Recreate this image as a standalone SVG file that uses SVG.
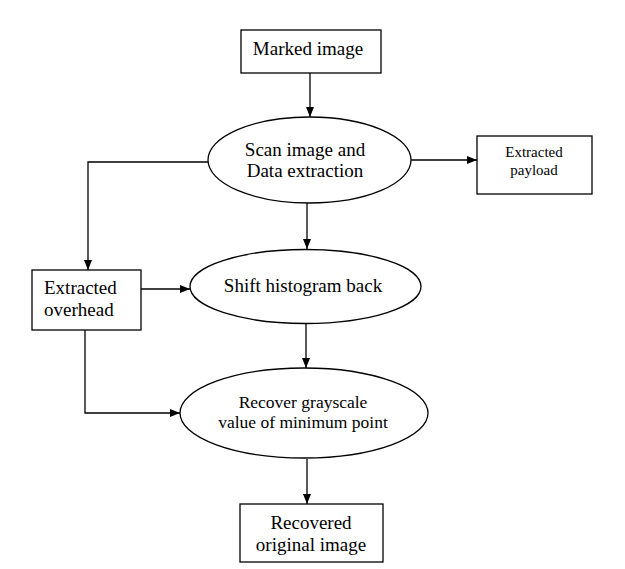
<svg xmlns="http://www.w3.org/2000/svg" width="625" height="569" viewBox="0 0 625 569">
<defs>
<marker id="arr" viewBox="0 0 10 8" refX="10" refY="4" markerWidth="10" markerHeight="8" markerUnits="userSpaceOnUse" orient="auto">
<path d="M0,0 L10,4 L0,8 Z" fill="#000"/>
</marker>
<style>
.shape{fill:#fff;stroke:#000;stroke-width:1.3}
.t{font-family:"Liberation Serif","Times New Roman",serif;font-size:19px;fill:#000;text-anchor:middle}
.s{font-size:15px}
.m{font-size:17.5px}
.l{text-anchor:start}
.c{fill:none;stroke:#000;stroke-width:1.3;marker-end:url(#arr)}
</style>
</defs>
<rect width="625" height="569" fill="#fff"/>
<g id="connectors">
<path class="c" d="M310,73 V117"/>
<path class="c" d="M411,160 H477"/>
<path class="c" d="M208,162 H88 V270"/>
<path class="c" d="M307,203 V249"/>
<path class="c" d="M141,289 H190"/>
<path class="c" d="M306,324 V368"/>
<path class="c" d="M85,330 V413 H180"/>
<path class="c" d="M307,459 V504"/>
</g>
<g id="marked-image">
<rect class="shape" x="241" y="30" width="140" height="43"/>
<text class="t" x="308" y="55">Marked image</text>
</g>
<g id="scan-extraction">
<ellipse class="shape" cx="309.5" cy="160" rx="101.5" ry="43"/>
<text class="t" x="305" y="156">Scan image and</text>
<text class="t" x="305" y="177">Data extraction</text>
</g>
<g id="extracted-payload">
<rect class="shape" x="477" y="136" width="115" height="58"/>
<text class="t s" x="534" y="157">Extracted</text>
<text class="t s" x="534" y="175">payload</text>
</g>
<g id="extracted-overhead">
<rect class="shape" x="32" y="270" width="109" height="60"/>
<text class="t l" x="44" y="294">Extracted</text>
<text class="t l" x="44" y="316">overhead</text>
</g>
<g id="shift-histogram">
<ellipse class="shape" cx="305.5" cy="286.5" rx="115.5" ry="37"/>
<text class="t" x="303" y="292">Shift histogram back</text>
</g>
<g id="recover-grayscale">
<ellipse class="shape" cx="304" cy="413" rx="124" ry="45"/>
<text class="t m" x="303" y="408">Recover grayscale</text>
<text class="t m" x="303" y="428">value of minimum point</text>
</g>
<g id="recovered-image">
<rect class="shape" x="240" y="504" width="143" height="58"/>
<text class="t" x="311" y="529">Recovered</text>
<text class="t" x="311" y="551">original image</text>
</g>
</svg>
